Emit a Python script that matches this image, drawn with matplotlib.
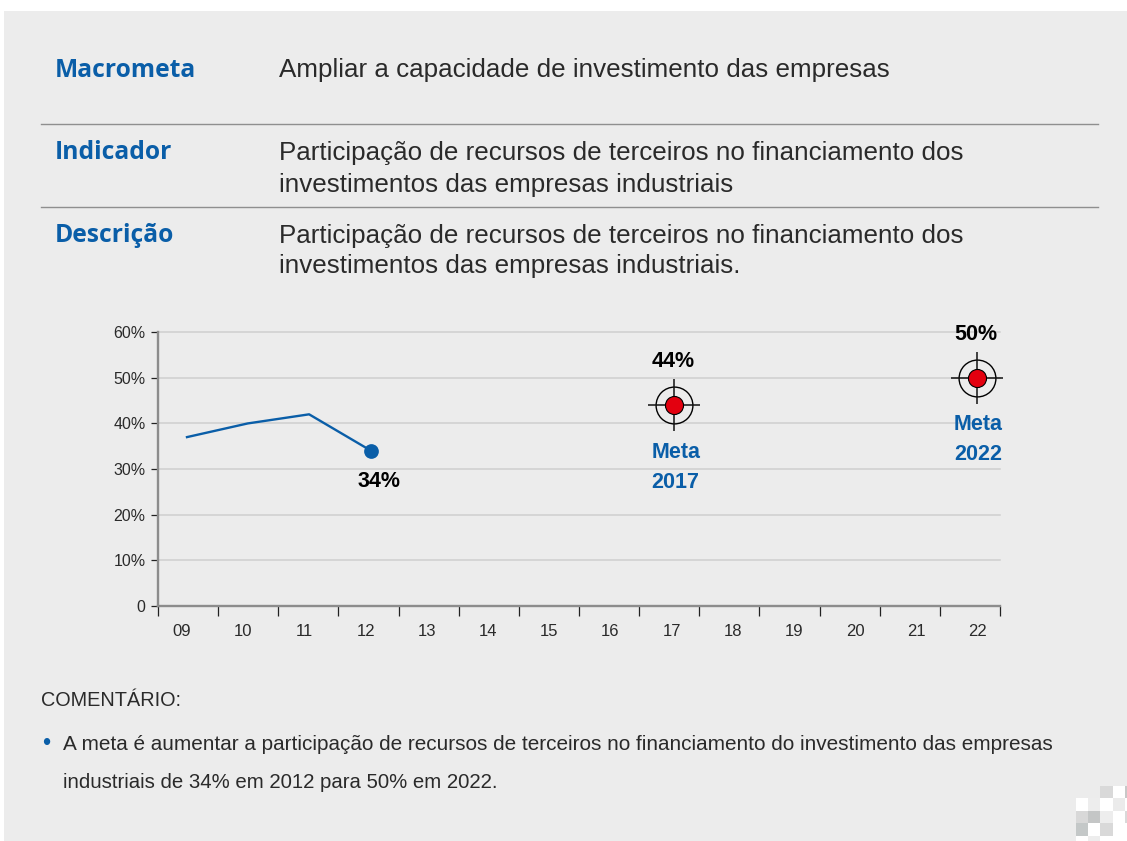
import numpy as np
import matplotlib
matplotlib.use("Agg")
import matplotlib.pyplot as plt

# data
years = ["09", "10", "11", "12", "13", "14", "15", "16", "17", "18", "19", "20", "21", "22"]
hist_pos = [0, 1, 2.01, 3.03]
hist_vals = [37, 40, 42, 34]
target_pos = [8.02, 13]
target_vals = [44, 50]
target_years = ["2017", "2022"]
y_ticks = [0, 10, 20, 30, 40, 50, 60]
y_labels = ["0", "10%", "20%", "30%", "40%", "50%", "60%"]

W, H = 1127, 841
BLUE = "#0a5ea8"
BG = "#ececec"
TXT = "#2a2a2a"
BODY = "Liberation Sans"
HEAD = "Open Sans"

fig = plt.figure(figsize=(W / 100, H / 100), dpi=100, facecolor="white")

# page layer in pixel coords
page = fig.add_axes([0, 0, 1, 1])
page.set_xlim(0, W)
page.set_ylim(H, 0)
page.axis("off")
page.add_patch(plt.Rectangle((4, 11), W - 4, H - 11, color=BG, lw=0))

# rows of the header table
for y in [124, 207]:
    page.plot([41, 1098], [y, y], color="#8f8f8f", lw=1)
rows = [
    ("Macrometa", 70, ["Ampliar a capacidade de investimento das empresas"], [70]),
    ("Indicador", 152, ["Participação de recursos de terceiros no financiamento dos",
                        "investimentos das empresas industriais"], [152.5, 184.5]),
    ("Descrição", 235, ["Participação de recursos de terceiros no financiamento dos",
                        "investimentos das empresas industriais."], [235.5, 266.5]),
]
for head, hy, lines, ys in rows:
    page.text(55, hy, head, color=BLUE, fontsize=17.7, fontweight="bold", family=HEAD, va="center")
    for line, ly in zip(lines, ys):
        page.text(279, ly, line, color=TXT, fontsize=18.7, family=BODY, va="center")

# comment
page.text(41, 700, "COMENTÁRIO:", color=TXT, fontsize=14.3, family=BODY, va="center")
page.text(42, 744, "•", color=BLUE, fontsize=17, family=BODY, va="center")
page.text(63, 744.5, "A meta é aumentar a participação de recursos de terceiros no financiamento do investimento das empresas",
          color=TXT, fontsize=14.95, family=BODY, va="center")
page.text(63, 782.5, "industriais de 34% em 2012 para 50% em 2022.", color=TXT, fontsize=14.7, family=BODY, va="center")

# mosaic in the corner
mosaic = [
    [None, None, "#d9d9d9", "white", "#c8c8c8"],
    ["white", "#ededed", "white", "#ebebeb", "white"],
    ["#d8d8d8", "#c4c6c6", "#ededed", "white", "#d9d9d9"],
    ["#c4c8c8", "white", "#d9d9d9", "white", "white"],
    ["white", "#ededed", "white", "white", "white"],
]
for r, row in enumerate(mosaic):
    for c, col in enumerate(row):
        if col:
            page.add_patch(plt.Rectangle((1076 + c * 12.2, 786 + r * 12.4), 12.2, 12.4, color=col, lw=0))

# chart
x0, x1, y0, y1 = 158, 1000, 605.7, 332.3
ax = fig.add_axes([x0 / W, 1 - y0 / H, (x1 - x0) / W, (y0 - y1) / H])
ax.patch.set_alpha(0)
step = 60.75
ax.set_xlim((x0 - 187) / step, (x1 - 187) / step)
ax.set_ylim(0, 60)

for s in ["top", "right"]:
    ax.spines[s].set_visible(False)
for s in ["left", "bottom"]:
    ax.spines[s].set_color("#8c8c8c")
    ax.spines[s].set_linewidth(1.7)

ax.set_yticks(y_ticks)
ax.set_yticklabels(y_labels, fontsize=11.5, family=BODY, color=TXT)
ax.tick_params(axis="y", length=5, width=0.9, color="#222222", pad=4)
ax.grid(axis="y", color="#cfcfcf", lw=1.1, clip_on=False)
ax.set_axisbelow(True)

# boundaries carry the ticks, labels sit on minor ticks
ax.set_xticks(np.linspace(ax.get_xlim()[0], ax.get_xlim()[1], 15))
ax.set_xticklabels([])
ax.tick_params(axis="x", which="major", length=7, width=0.9, color="#222222", direction="out")
label_pos = np.arange(len(years)) * 61.2 / step - 5 / step
ax.set_xticks(label_pos, minor=True)
ax.set_xticklabels(years, minor=True, fontsize=12, family=BODY, color=TXT)
ax.tick_params(axis="x", which="minor", length=0, pad=13.5)

ax.plot(hist_pos, hist_vals, color=BLUE, lw=1.7, clip_on=False)
ax.plot(hist_pos[-1], hist_vals[-1], "o", color=BLUE, ms=10.6, mec="none", clip_on=False)
ax.annotate("34%", (hist_pos[-1], hist_vals[-1]), xytext=(8, -31), textcoords="offset pixels", ha="center", va="center",
            fontsize=15.5, fontweight="bold", family=BODY, color="black")

for pos, val, yr in zip(target_pos, target_vals, target_years):
    ax.plot(pos, val, "o", ms=26.5, mfc="none", mec="black", mew=1, clip_on=False, zorder=4)
    ax.plot(pos, val, "+", ms=38, mec="#111111", mew=1.1, clip_on=False, zorder=5)
    ax.plot(pos, val, "o", ms=13, mfc="#e3000f", mec="black", mew=0.8, clip_on=False, zorder=6)
    ax.annotate(f"{val}%", (pos, val), xytext=(-1, 43.5), textcoords="offset pixels", ha="center", va="center",
                fontsize=15.5, fontweight="bold", family=BODY, color="black")
    ax.annotate(f"Meta\n{yr}", (pos, val), xytext=(1.5, -62), textcoords="offset pixels", ha="center", va="center",
                fontsize=15.5, fontweight="bold", family=BODY, color=BLUE, linespacing=1.55)

fig.savefig("out.png", dpi=100)
